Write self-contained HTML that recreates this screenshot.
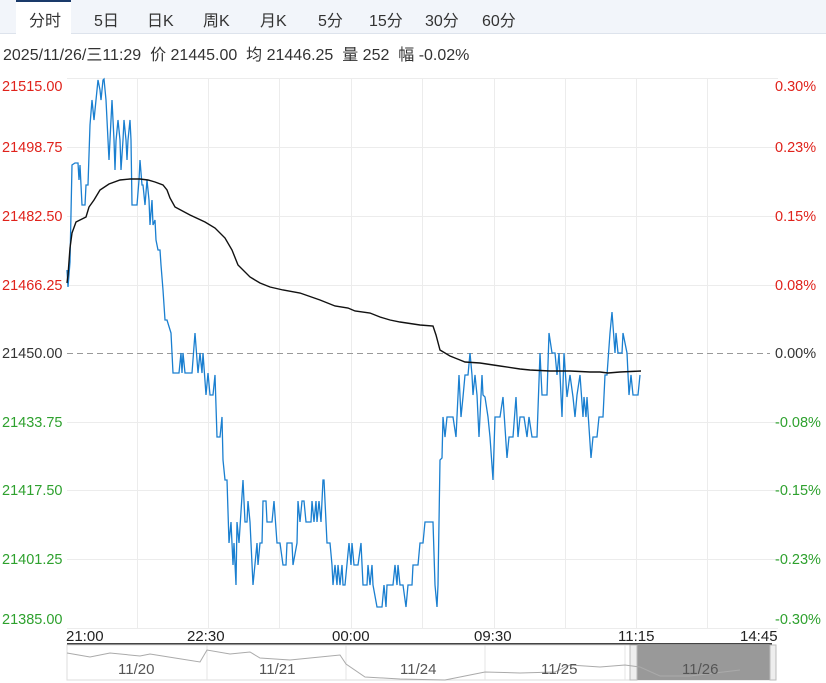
<!DOCTYPE html><html><head><meta charset="utf-8"><style>
body{margin:0;width:826px;height:683px;background:#fff;overflow:hidden;font-family:"Liberation Sans","Noto Sans CJK SC",sans-serif}
.tabs{position:absolute;left:0;top:0;width:826px;height:33px;background:#f2f5fa;border-bottom:1px solid #dde3ec}
.tab{position:absolute;top:7px;font-size:16px;color:#333}
</style></head><body>
<div class="tabs"></div>
<div style="position:absolute;left:16px;top:0;width:55px;height:34px;background:#fff;border-top:2px solid #1a3a6a;box-sizing:border-box"></div>
<span class="tab" style="left:29px">分时</span><span class="tab" style="left:94px">5日</span><span class="tab" style="left:147px">日K</span><span class="tab" style="left:203px">周K</span><span class="tab" style="left:260px">月K</span><span class="tab" style="left:318px">5分</span><span class="tab" style="left:369px">15分</span><span class="tab" style="left:425px">30分</span><span class="tab" style="left:482px">60分</span>
<div style="position:absolute;left:3px;top:41px;font-size:16px;color:#333;white-space:pre">2025/11/26/三11:29  价 21445.00  均 21446.25  量 252  幅 -0.02%</div>
<svg width="826" height="683" style="position:absolute;left:0;top:0" font-family="Liberation Sans, sans-serif" font-size="14.5">
<g stroke="#ececec" stroke-width="1">
<line x1="67" y1="78.5" x2="778" y2="78.5"/><line x1="67" y1="147.5" x2="778" y2="147.5"/><line x1="67" y1="216.5" x2="778" y2="216.5"/><line x1="67" y1="285.5" x2="778" y2="285.5"/><line x1="67" y1="422.5" x2="778" y2="422.5"/><line x1="67" y1="490.5" x2="778" y2="490.5"/><line x1="67" y1="559.5" x2="778" y2="559.5"/><line x1="67" y1="628.5" x2="778" y2="628.5"/>
<line x1="137.5" y1="78" x2="137.5" y2="629"/><line x1="208.5" y1="78" x2="208.5" y2="629"/><line x1="279.5" y1="78" x2="279.5" y2="629"/><line x1="351.5" y1="78" x2="351.5" y2="629"/><line x1="422.5" y1="78" x2="422.5" y2="629"/><line x1="494.5" y1="78" x2="494.5" y2="629"/><line x1="565.5" y1="78" x2="565.5" y2="629"/><line x1="636.5" y1="78" x2="636.5" y2="629"/><line x1="707.5" y1="78" x2="707.5" y2="629"/>
</g>
<line x1="67" y1="353.5" x2="770" y2="353.5" stroke="#999" stroke-dasharray="6,4"/>
<g fill="#e0221b"><text x="2" y="91">21515.00</text><text x="2" y="152">21498.75</text><text x="2" y="221">21482.50</text><text x="2" y="290">21466.25</text>
<text x="775" y="91">0.30%</text><text x="775" y="152">0.23%</text><text x="775" y="221">0.15%</text><text x="775" y="290">0.08%</text></g>
<text x="2" y="358" fill="#333">21450.00</text><text x="775" y="358" fill="#333">0.00%</text>
<g fill="#2ea12e"><text x="2" y="427">21433.75</text><text x="2" y="495">21417.50</text><text x="2" y="564">21401.25</text><text x="2" y="624">21385.00</text>
<text x="775" y="427">-0.08%</text><text x="775" y="495">-0.15%</text><text x="775" y="564">-0.23%</text><text x="775" y="624">-0.30%</text></g>
<polyline fill="none" stroke="#1a7fd0" stroke-width="1.3" points="67,270 68,287 70,262 72,165 75,163 78,163 79,180 80,165 82,205 85,205 86,185 88,185 90,125 92,100 94,120 96,100 98,80 100,90 101,100 103,80 104,79 106,100 108,140 109,160 110,140 112,100 114,140 115,170 116,141 118,120 120,140 121,170 123,140 124,120 126,140 127,160 128,140 130,120 131,140 132,205 135,205 137,205 139,180 140,160 142,185 143,185 145,205 147,180 149,200 150,225 152,200 153,225 155,220 156,240 158,250 160,250 161,265 163,290 165,320 167,320 171,333 173,373 179,373 181,353 182,373 183,353 185,373 192,373 195,333 198,373 200,353 202,373 203,353 206,395 208,373 210,395 213,395 215,375 217,437 220,437 222,417 223,460 225,480 227,480 229,543 231,522 233,565 234,543 236,585 237,522 239,543 243,480 245,522 247,522 248,501 250,522 253,585 257,543 258,565 260,543 262,543 263,501 266,501 267,522 272,522 274,501 277,543 280,543 283,565 286,565 287,543 292,543 293,565 297,543 298,501 300,522 302,501 304,501 306,522 311,522 312,501 314,522 316,501 317,522 319,501 321,522 323,480 324,480 327,543 330,543 332,565 333,585 335,565 337,585 338,565 340,585 342,565 343,585 345,585 349,543 351,565 352,543 354,565 358,565 361,543 363,585 367,585 368,565 370,585 372,565 373,585 377,607 382,607 384,585 386,607 387,585 393,585 395,565 397,585 398,565 400,585 403,585 406,607 408,585 412,585 413,565 418,565 420,543 423,543 425,522 433,522 435,585 437,607 438,585 440,460 442,458 443,417 445,437 447,417 453,417 456,437 459,375 461,417 463,397 465,375 468,375 470,353 472,375 473,395 475,375 477,395 479,437 482,375 483,395 485,397 488,417 490,437 493,480 495,417 500,417 503,397 507,458 509,437 513,437 516,397 518,437 520,417 524,417 527,437 529,417 532,437 537,437 540,353 542,395 547,395 549,333 552,353 555,353 557,375 559,353 562,417 564,353 567,397 570,375 573,397 575,417 577,395 580,375 583,417 584,397 586,417 587,397 591,458 593,437 597,437 599,417 603,417 605,375 607,375 610,333 612,312 615,353 616,333 618,353 622,353 623,333 627,353 629,395 631,375 633,395 638,395 640,375"/>
<polyline fill="none" stroke="#111" stroke-width="1.4" points="67,283 68,275 70,248 72,233 76,222 80,220 86,217 89,207 94,200 100,190 109,184 120,180 130,179 140,179 148,180 155,182 163,185 167,190 170,198 175,207 190,215 205,222 215,228 225,238 232,250 238,265 250,277 260,283 270,287 283,290 300,293 320,300 335,306 348,308 355,311 370,313 380,317 390,320 400,322 420,325 433,326 436,335 440,350 450,356 460,360 465,362 480,363 500,366 520,369 530,370 550,371 570,371 590,372 600,372 608,373 620,372 641,371"/>
<g fill="#222" font-size="15"><text x="66" y="641">21:00</text><text x="187" y="641">22:30</text><text x="332" y="641">00:00</text><text x="474" y="641">09:30</text><text x="618" y="641">11:15</text><text x="740" y="641">14:45</text></g>
<rect x="67" y="643" width="705" height="2" fill="#444"/>
<rect x="67" y="645" width="705" height="35" fill="#fff" stroke="#ddd"/>
<g stroke="#e4e4e4"><line x1="207" y1="645" x2="207" y2="680"/><line x1="346" y1="645" x2="346" y2="680"/><line x1="485" y1="645" x2="485" y2="680"/><line x1="625" y1="645" x2="625" y2="680"/></g>
<rect x="637" y="645" width="133" height="35" fill="#999"/>
<rect x="630" y="645" width="7" height="35" fill="#eee" stroke="#bbb"/><rect x="770" y="645" width="6" height="35" fill="#eee" stroke="#bbb"/>
<polyline fill="none" stroke="#aaa" points="67,653 90,657 110,653 140,656 150,654 175,658 200,662 207,650 230,654 250,652 260,658 290,660 300,659 340,655 346,664 365,677 400,679 445,680 470,675 485,672 520,673 555,672 570,665 600,667 625,665 640,667 660,676 690,676 740,670"/>
<g fill="#555" font-size="15"><text x="118" y="674">11/20</text><text x="259" y="674">11/21</text><text x="400" y="674">11/24</text><text x="541" y="674">11/25</text><text x="682" y="674">11/26</text></g>
</svg>
</body></html>
